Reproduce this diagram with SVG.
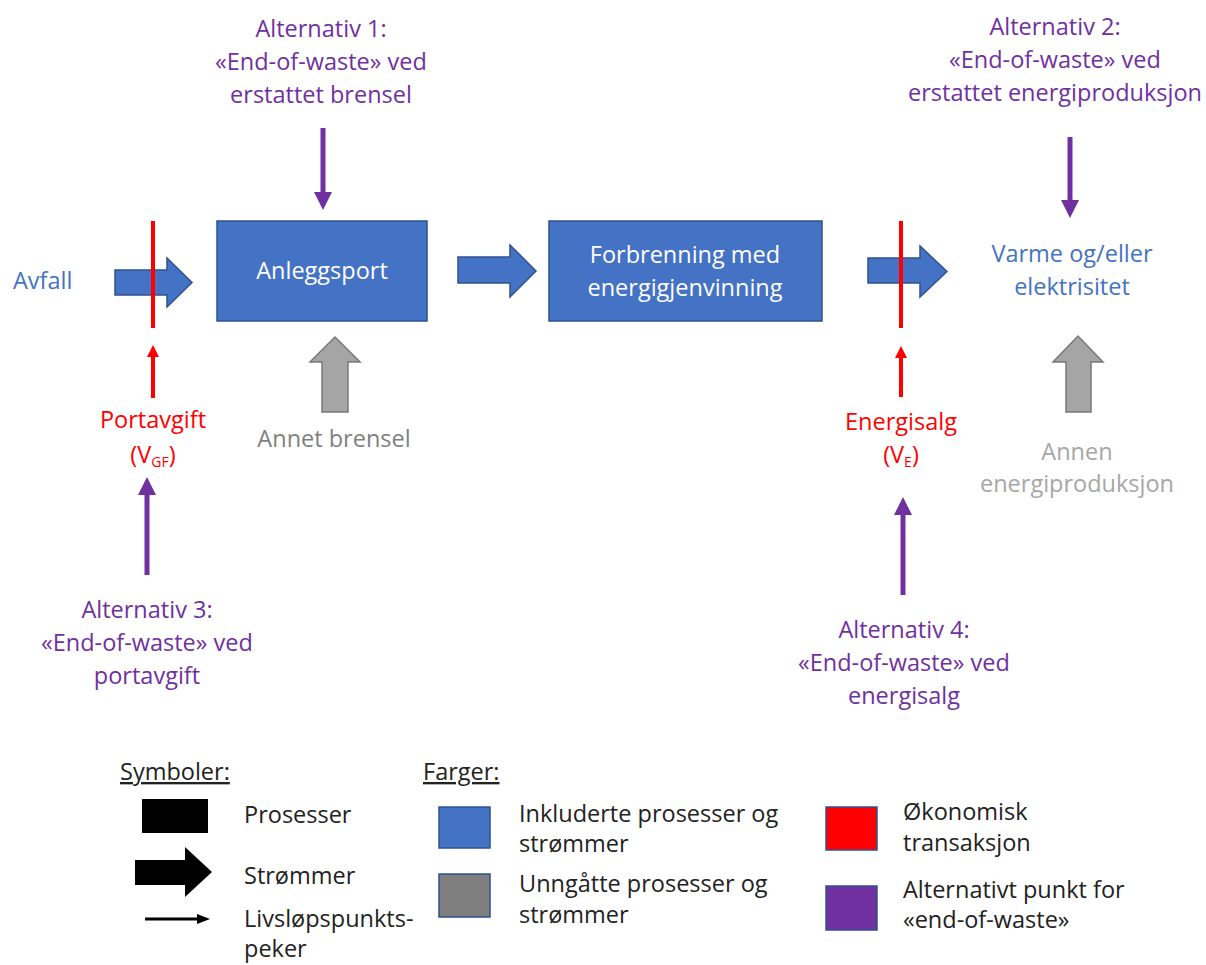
<svg xmlns="http://www.w3.org/2000/svg" width="1206" height="965" viewBox="0 0 1206 965">
<style>
text{font-family:"Open Sans","Noto Sans","Liberation Sans",sans-serif;font-size:23.5px}
.c{text-anchor:middle}
.blueT{fill:#4472C4}
.white{fill:#FFFFFF}
.purple{fill:#7030A0}
.red{fill:#FF0000}
.grayD{fill:#7F7F7F}
.grayL{fill:#A6A6A6}
.blk{fill:#222222}
.box{fill:#4472C4;stroke:#2F528F;stroke-width:1.5}
.flow{fill:#4472C4;stroke:#2F528F;stroke-width:1.5}
.gflow{fill:#A5A5A5;stroke:#787878;stroke-width:1.5}
.pline{stroke:#7030A0;stroke-width:5;fill:none;marker-end:url(#ph)}
.rline{stroke:#FF0000;stroke-width:4;fill:none}
.rarrow{stroke:#FF0000;stroke-width:4;fill:none;marker-end:url(#rh)}
.sub{font-size:14px}
.ul{text-decoration:underline}
</style>
<defs>
<marker id="ph" markerUnits="userSpaceOnUse" markerWidth="19" markerHeight="18" refX="1" refY="9" orient="auto" viewBox="0 0 19 18">
<path d="M0,0 L18,9 L0,18 z" fill="#7030A0"/>
</marker>
<marker id="rh" markerUnits="userSpaceOnUse" markerWidth="13" markerHeight="12" refX="1" refY="6" orient="auto" viewBox="0 0 13 12">
<path d="M0,0 L12,6 L0,12 z" fill="#FF0000"/>
</marker>
<marker id="kh" markerUnits="userSpaceOnUse" markerWidth="14" markerHeight="10" refX="1" refY="5" orient="auto" viewBox="0 0 14 10">
<path d="M0,0 L13,5 L0,10 z" fill="#000000"/>
</marker>
</defs>

<g id="node-avfall">
<text class="blueT" x="13" y="289">Avfall</text>
</g>
<g id="node-anleggsport">
<rect class="box" x="217" y="221" width="210" height="100"/>
<text class="c white" x="322" y="279">Anleggsport</text>
</g>
<g id="node-forbrenning">
<rect class="box" x="549" y="221" width="273" height="100"/>
<text class="c white" x="685" y="263">Forbrenning med</text>
<text class="c white" x="685" y="296">energigjenvinning</text>
</g>
<g id="node-varme">
<text class="c blueT" x="1072" y="262">Varme og/eller</text>
<text class="c blueT" x="1072" y="295">elektrisitet</text>
</g>
<g id="node-annet-brensel">
<text class="c grayD" x="334" y="447">Annet brensel</text>
</g>
<g id="node-annen-energi">
<text class="c grayL" x="1077" y="460">Annen</text>
<text class="c grayL" x="1077" y="492">energiproduksjon</text>
</g>
<g id="node-portavgift">
<text class="c red" x="153" y="428">Portavgift</text>
<text class="c red" x="153" y="463">(V<tspan class="sub" dy="4">GF</tspan><tspan dy="-4">)</tspan></text>
</g>
<g id="node-energisalg">
<text class="c red" x="901" y="430">Energisalg</text>
<text class="c red" x="901" y="463">(V<tspan class="sub" dy="4">E</tspan><tspan dy="-4">)</tspan></text>
</g>
<g id="node-alt1">
<text class="c purple" x="321" y="37">Alternativ 1:</text>
<text class="c purple" x="321" y="70">«End-of-waste» ved</text>
<text class="c purple" x="321" y="103">erstattet brensel</text>
</g>
<g id="node-alt2">
<text class="c purple" x="1055" y="35">Alternativ 2:</text>
<text class="c purple" x="1055" y="68">«End-of-waste» ved</text>
<text class="c purple" x="1055" y="101">erstattet energiproduksjon</text>
</g>
<g id="node-alt3">
<text class="c purple" x="147" y="618">Alternativ 3:</text>
<text class="c purple" x="147" y="651">«End-of-waste» ved</text>
<text class="c purple" x="147" y="684">portavgift</text>
</g>
<g id="node-alt4">
<text class="c purple" x="904" y="638">Alternativ 4:</text>
<text class="c purple" x="904" y="671">«End-of-waste» ved</text>
<text class="c purple" x="904" y="704">energisalg</text>
</g>

<g id="connectors">
<polygon class="flow" points="115,270 167,270 167,258 192,282.5 167,307 167,295 115,295"/>
<polygon class="flow" points="458,257 510,257 510,245 536,271 510,297 510,283 458,283"/>
<polygon class="flow" points="868,258 920,258 920,246 947,271.5 920,297 920,283 868,283"/>
<polygon class="gflow" points="322,412 322,362 310,362 335,337 360,362 348,362 348,412"/>
<polygon class="gflow" points="1066,412 1066,362 1053,362 1078,336 1103,362 1091,362 1091,412"/>
<line class="rline" x1="153" y1="221" x2="153" y2="328"/>
<line class="rline" x1="901" y1="221" x2="901" y2="328"/>
<line class="rarrow" x1="153" y1="398" x2="153" y2="356"/>
<line class="rarrow" x1="901" y1="397" x2="901" y2="357"/>
<line class="pline" x1="323" y1="128" x2="323" y2="193"/>
<line class="pline" x1="1070" y1="137" x2="1070" y2="201"/>
<line class="pline" x1="147" y1="575" x2="147" y2="494"/>
<line class="pline" x1="903" y1="595" x2="903" y2="514"/>
</g>

<g id="legend">
<text class="blk ul" x="120" y="780">Symboler:</text>
<rect x="142" y="799" width="66" height="34" fill="#000000"/>
<text class="blk" x="244" y="823">Prosesser</text>
<polygon points="135,860 185,860 185,847 212,872 185,897 185,885 135,885" fill="#000000"/>
<text class="blk" x="244" y="884">Strømmer</text>
<line x1="145" y1="919" x2="198" y2="919" stroke="#000000" stroke-width="3" marker-end="url(#kh)"/>
<text class="blk" x="244" y="927">Livsløpspunkts-</text>
<text class="blk" x="244" y="957">peker</text>

<text class="blk ul" x="423" y="780">Farger:</text>
<rect x="439" y="807" width="51" height="41" fill="#4472C4" stroke="#2F528F" stroke-width="1.5"/>
<text class="blk" x="519" y="822">Inkluderte prosesser og</text>
<text class="blk" x="519" y="852">strømmer</text>
<rect x="439" y="874" width="51" height="43" fill="#7F7F7F" stroke="#2F528F" stroke-width="1.5"/>
<text class="blk" x="519" y="892">Unngåtte prosesser og</text>
<text class="blk" x="519" y="923">strømmer</text>

<rect x="826" y="807" width="51" height="43" fill="#FF0000" stroke="#2F528F" stroke-width="1.5"/>
<text class="blk" x="903" y="820">Økonomisk</text>
<text class="blk" x="903" y="851">transaksjon</text>
<rect x="826" y="886" width="51" height="44" fill="#7030A0" stroke="#2F528F" stroke-width="1.5"/>
<text class="blk" x="903" y="898">Alternativt punkt for</text>
<text class="blk" x="903" y="928">«end-of-waste»</text>
</g>
</svg>
